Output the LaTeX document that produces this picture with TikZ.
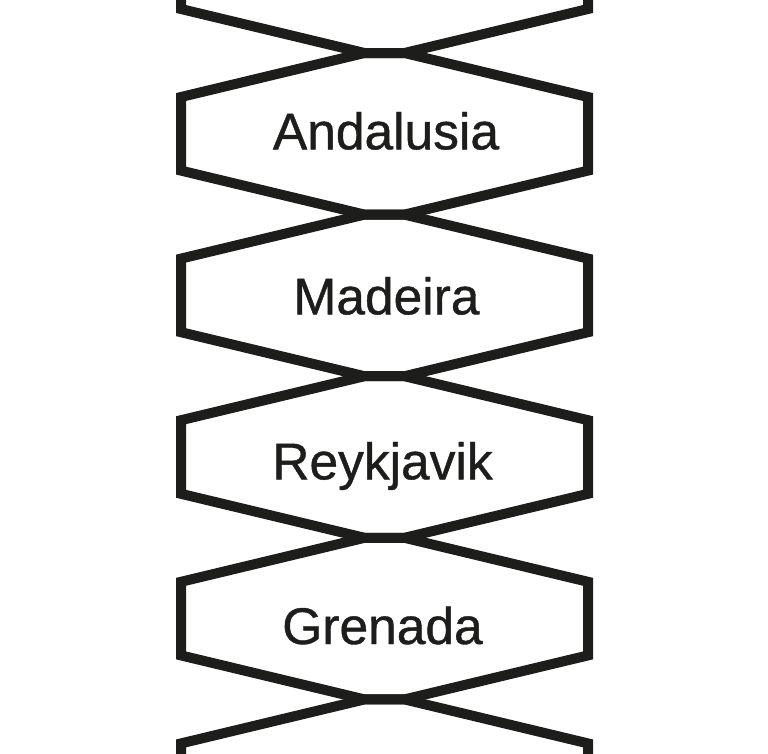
\documentclass[tikz,border=0pt]{standalone}
\usepackage{fontspec}
\setmainfont{Liberation Sans}[FakeBold=0.8]
\definecolor{ink}{HTML}{1D1D1B}
\begin{document}
\begin{tikzpicture}[x=1pt,y=-1pt,
  hexline/.style={draw=ink,line width=10pt,line join=miter,miter limit=10},
  label/.style={font=\fontsize{51.5}{60}\selectfont,text=ink,anchor=base,inner sep=0pt}]
\useasboundingbox (0,0) rectangle (768,753);
\begin{scope}
\clip (0,0) rectangle (768,753);
\foreach \j in {-1,0,1,2,3,4} {
  \pgfmathsetmacro{\ya}{53+161.6*\j}
  \pgfmathsetmacro{\yb}{53+161.6*(\j+1)}
  \draw[hexline] (364.5,\ya) -- (404.5,\ya) -- (588,\ya+44) -- (588,\yb-44)
     -- (404.5,\yb) -- (364.5,\yb) -- (181,\yb-44) -- (181,\ya+44) -- cycle;
}
\end{scope}
\node[label] (a) at (386,149.3) {Andalusia};
\node[label] (m) at (386.5,314.3) {Madeira};
\node[label] (r) at (382.5,479.3) {Reykjavik};
\node[label] (g) at (382.5,644) {Grenada};
\end{tikzpicture}
\end{document}
